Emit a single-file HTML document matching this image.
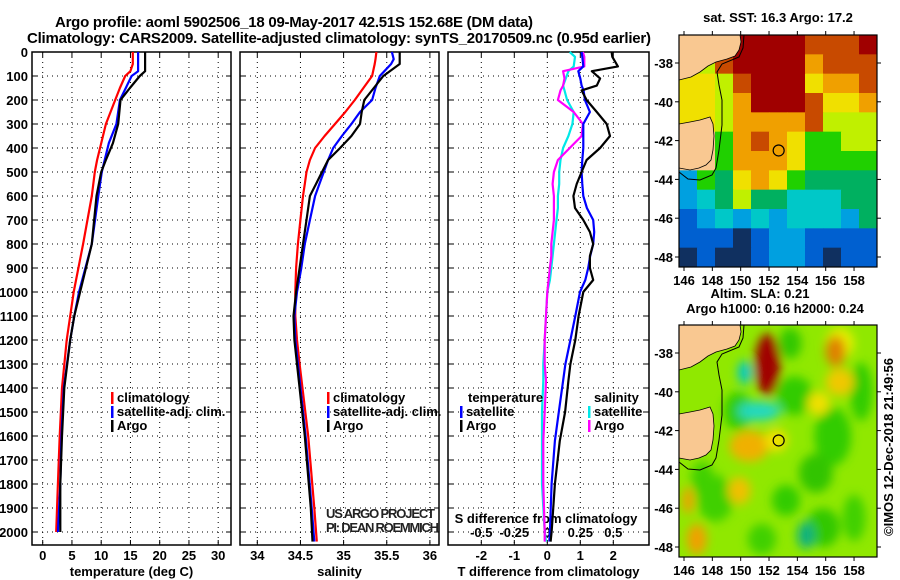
<!DOCTYPE html>
<html><head><meta charset="utf-8"><style>
html,body{margin:0;padding:0;background:#fff;}
svg{display:block;font-family:"Liberation Sans",sans-serif;}
.t{font-weight:bold;font-size:13px;}
</style></head><body>
<svg id="c" width="900" height="580" viewBox="0 0 900 580" xmlns="http://www.w3.org/2000/svg">
<defs>
<filter id="blur" x="-50%" y="-50%" width="200%" height="200%"><feGaussianBlur stdDeviation="5"/></filter>
<clipPath id="clipTop"><rect x="679" y="35" width="198" height="232"/></clipPath>
<clipPath id="clipBot"><rect x="679" y="325" width="198" height="232"/></clipPath>
</defs>
<text x="55" y="27" font-size="15" font-weight="bold" textLength="478">Argo profile: aoml 5902506_18 09-May-2017 42.51S 152.68E (DM data)</text>
<text x="27" y="43" font-size="15" font-weight="bold" textLength="624">Climatology: CARS2009. Satellite-adjusted climatology: synTS_20170509.nc (0.95d earlier)</text>
<g id="g"></g>
</svg>
<script>
// ---- data ----
var depthTicks=[0,100,200,300,400,500,600,700,800,900,1000,1100,1200,1300,1400,1500,1600,1700,1800,1900,2000];
var tempTicks=[0,5,10,15,20,25,30];
var salTicks=[34,34.5,35,35.5,36];
var salTickLabels=["34","34.5","35","35.5","36"];
var tdiffTicks=[-2,-1,0,1,2];
var sdiffTicks=[-0.5,-0.25,0,0.25,0.5];
var sdiffTickLabels=["-0.5","-0.25","0","0.25","0.5"];

var tDepth=[0,50,80,100,150,200,300,380,450,500,600,800,1000,1100,1200,1400,1600,1800,2000];
var tArgo=[17.5,17.5,17.5,16.6,14.9,13.3,12.9,12.0,10.8,10.0,9.2,8.4,6.4,5.4,4.7,3.7,3.3,3.0,3.0];
var tSat=[16.3,16.3,16.3,15.2,14.2,13.2,12.6,11.3,10.6,10.1,9.5,8.4,6.2,5.4,4.7,3.6,3.2,3.0,2.6];
var tClim=[15.4,15.4,15.0,14.1,13.2,12.4,10.8,10.0,9.3,8.9,8.4,6.9,5.3,4.7,4.1,3.3,2.9,2.6,2.3];

var sDepth=[0,30,50,100,150,200,250,300,350,400,450,500,550,600,700,800,900,1000,1100,1200,1300,1600,1900,2040];
var sArgo=[35.65,35.65,35.65,35.46,35.35,35.24,35.21,35.19,35.09,34.96,34.82,34.75,34.68,34.61,34.57,34.53,34.49,34.45,34.42,34.43,34.46,34.55,34.62,34.64];
var sSat=[35.56,35.58,35.55,35.42,35.37,35.33,35.19,35.09,34.98,34.88,34.82,34.77,34.72,34.67,34.61,34.55,34.51,34.46,34.43,34.44,34.47,34.56,34.63,34.66];
var sClim=[35.38,35.37,35.36,35.33,35.23,35.13,35.02,34.90,34.78,34.67,34.61,34.57,34.55,34.53,34.50,34.47,34.45,34.44,34.44,34.46,34.49,34.59,34.66,34.69];

var dDepth=[0,20,60,80,110,140,160,200,250,300,350,400,450,500,550,600,650,700,750,800,850,900,950,1000,1100,1200,1300,1370,1500,1620,1800,2000,2040];
var dTArgo=[1.95,1.97,2.14,1.35,1.6,1.5,1.04,1.19,1.5,1.8,1.9,1.6,1.19,1.04,0.89,0.79,0.84,1.09,1.29,1.39,1.29,1.29,1.39,1.09,0.95,0.85,0.7,0.64,0.54,0.38,0.23,0.13,0.1];
var dTSat=[1.04,1.06,1.09,0.94,1.0,1.04,1.1,1.14,1.29,1.09,1.09,1.09,1.06,1.04,1.06,1.09,1.2,1.39,1.42,1.39,1.3,1.24,1.15,0.99,0.85,0.7,0.55,0.48,0.35,0.23,0.13,0.08,0.06];
var dSArgo=[0.27,0.28,0.28,0.12,0.13,0.12,0.1,0.08,0.2,0.27,0.26,0.17,0.08,0.05,0.04,0.05,0.05,0.05,0.04,0.03,0.03,0.02,0.01,0.0,-0.01,-0.02,-0.02,-0.01,-0.02,-0.03,-0.03,-0.02,-0.02];
var dSSat=[0.17,0.21,0.2,0.16,0.14,0.12,0.13,0.15,0.2,0.19,0.16,0.12,0.1,0.09,0.09,0.08,0.08,0.07,0.06,0.05,0.04,0.03,0.02,0.0,-0.01,-0.02,-0.03,-0.03,-0.04,-0.04,-0.04,-0.02,-0.01];

// SST map grid (codes)
var sstRows=[
"PPPRRRRBBBR",
"PLBRRRROBBB",
"YYLBRRRYOOB",
"YYLORRRBYYO",
"YYLOOOOBLLL",
"PPGOBOYGGLL",
"PPGOOOYGGGG",
"SGTYOYGTTTT",
"SCTLTTCCCTT",
"DSCSCSCCCST",
"DDDKDSSDDDD",
"KDKKDSSDKDD"];
var sstColors={P:"#f9c891",R:"#a00000",B:"#c84a00",O:"#f0a000",Y:"#f0e000",L:"#c0f000",G:"#20d000",T:"#00b060",C:"#00c8c8",S:"#00a0e0",D:"#0060d0",K:"#103060"};
var lonTicks=[146,148,150,152,154,156,158];
var latTicks=[-38,-40,-42,-44,-46,-48];
// SLA blobs: lon, lat, rx(deg), ry(deg), color
var slaLon=[149.8,153.8,156.5,158.5,155.3,148.2,153.2,147.3,155.8,151.5,158.0,157.0,
            151.9,150.3,151.3,156.7,157.0,150.6,152.5,146.9,154.6,149.9,146.3,155.5,153.5];
var slaLat=[-41.0,-40.2,-42.3,-40.0,-44.2,-45.5,-45.6,-44.5,-47.0,-47.6,-46.5,-37.5,
            -38.6,-39.0,-41.0,-37.9,-39.5,-42.8,-42.5,-47.6,-47.4,-45.1,-45.6,-40.6,-37.5];
var slaRx=[1.0,1.3,1.3,0.8,1.2,1.3,1.0,0.8,1.2,1.0,0.8,1.0,
           0.9,0.5,1.5,0.7,1.0,1.4,0.8,0.7,0.6,0.8,0.4,0.8,0.8];
var slaRy=[1.0,1.0,1.5,1.5,1.0,1.2,0.8,0.9,1.0,0.8,1.2,0.8,
           1.6,0.6,0.5,0.8,0.7,0.8,0.6,0.8,0.7,0.7,0.7,0.6,0.8];
var slaCol=["#30cc00","#30cc00","#30cc00","#30cc00","#30c400","#40d000","#30cc00","#40d000","#30c800","#40d000","#40d000","#e8f000",
            "#a00000","#00c8c8","#20d8c0","#e08000","#f0c800","#f0b000","#f0e000","#f0a000","#10b080","#f0c000","#f0a000","#f0e000","#30c800"];

// ---- helpers ----
var NS="http://www.w3.org/2000/svg";
var G=document.getElementById('g');
function mk(tag,attrs,parent){var e=document.createElementNS(NS,tag);for(var k in attrs)e.setAttribute(k,attrs[k]);(parent||G).appendChild(e);return e;}
function txt(x,y,s,anchor,cls,extra){var e=mk('text',Object.assign({x:x,y:y,'text-anchor':anchor||'start','class':cls||'t'},extra||{}));e.textContent=s;return e;}
var top0=52,bot0=545;
function yD(d){return 52+d*0.24;}
function xT(v){return 42.7+v*5.85;}
function xS(v){return 257.3+(v-34)*86.3;}
function xDT(v){return 547.3+v*33;}
function xDS(v){return 547.3+v*132;}

// depth labels
depthTicks.forEach(function(d){var e=txt(28,yD(d)+5,String(d),'end');

});

function panel(x0,x1,name,xticks,xf,labels,xlabel){
  var r=mk('rect',{x:x0,y:top0,width:x1-x0,height:bot0-top0,fill:'none',stroke:'#000','stroke-width':1.5});
  
  
  depthTicks.forEach(function(d){var y=yD(d);
    var l=mk('line',{x1:x0,x2:x1,y1:y,y2:y,stroke:'#000','stroke-width':1,'stroke-dasharray':'1,4'});
    
    
    mk('line',{x1:x0,x2:x0+5,y1:y,y2:y,stroke:'#000'});mk('line',{x1:x1-5,x2:x1,y1:y,y2:y,stroke:'#000'});});
  xticks.forEach(function(v,i){var x=xf(v);
    var l=mk('line',{x1:x,x2:x,y1:top0,y2:bot0,stroke:'#000','stroke-width':1,'stroke-dasharray':'1,4'});
    
    
    mk('line',{x1:x,x2:x,y1:bot0-5,y2:bot0,stroke:'#000'});mk('line',{x1:x,x2:x,y1:top0,y2:top0+5,stroke:'#000'});
    var e=txt(x,560,labels[i],'middle');
    
    });
  var e=txt((x0+x1)/2,576,xlabel,'middle');
  
  
}
function line(depths,vals,xf,color,name){
  var pts=depths.map(function(d,i){return xf(vals[i]).toFixed(1)+','+yD(d).toFixed(1);}).join(' ');
  var p=mk('polyline',{points:pts,fill:'none',stroke:color,'stroke-width':2.2,'stroke-linejoin':'round'});
  
  
}
function legend(x,y,label,color,name){
  var r=mk('rect',{x:x,y:y-10,width:2.5,height:12,fill:color});
  var e=txt(x+6,y,label,'start');
  
  
}

// Panel 1
panel(32,231,'temperature-panel',tempTicks,xT,tempTicks.map(String),'temperature (deg C)');
line(tDepth,tClim,xT,'#ff0000','temp-climatology-line');
line(tDepth,tSat,xT,'#0000ff','temp-satellite-line');
line(tDepth,tArgo,xT,'#000000','temp-argo-line');
legend(111,402,'climatology','#ff0000','legend-climatology');
legend(111,416,'satellite-adj. clim.','#0000ff','legend-satellite');
legend(111,430,'Argo','#000','legend-argo');

// Panel 2
panel(240,439,'salinity-panel',salTicks,xS,salTickLabels,'salinity');
line(sDepth,sClim,xS,'#ff0000','sal-climatology-line');
line(sDepth,sSat,xS,'#0000ff','sal-satellite-line');
line(sDepth,sArgo,xS,'#000000','sal-argo-line');
legend(327,402,'climatology','#ff0000','legend-sal-climatology');
legend(327,416,'satellite-adj. clim.','#0000ff','legend-sal-satellite');
legend(327,430,'Argo','#000','legend-sal-argo');
var c1=txt(326,518,'US ARGO PROJECT','start','');c1.setAttribute('font-size','12');c1.setAttribute('fill','#222');c1.setAttribute('textLength','109');


var c2=txt(326,532,'PI: DEAN ROEMMICH','start','');c2.setAttribute('font-size','12');c2.setAttribute('fill','#222');c2.setAttribute('textLength','113');



// Panel 3
panel(448,649,'difference-panel',tdiffTicks,xDT,tdiffTicks.map(String),'T difference from climatology');
sdiffTicks.forEach(function(v,i){var e=txt(xDS(v),537,sdiffTickLabels[i],'middle');

});
var sl=txt(546,523,'S difference from climatology','middle');


line(dDepth,dSSat,xDS,'#00e8e8','sdiff-satellite-line');
line(dDepth,dSArgo,xDS,'#ff00ff','sdiff-argo-line');
line(dDepth,dTSat,xDT,'#0000ff','tdiff-satellite-line');
line(dDepth,dTArgo,xDT,'#000000','tdiff-argo-line');
var lt=txt(468,402,'temperature','start');


legend(460,416,'satellite','#0000ff','legend-tdiff-satellite');
legend(460,430,'Argo','#000','legend-tdiff-argo');
var ls=txt(594,402,'salinity','start');


legend(588,416,'satellite','#00e8e8','legend-sdiff-satellite');
legend(588,430,'Argo','#ff00ff','legend-sdiff-argo');

// ---- maps ----
function mx(lon){return 684+(lon-146)*14.17;}
function my(lat,off){return off+63+(-38-lat)*19.4;}
var landV="679,35 740,35 741,42 739,50 735,56 727,59 716,62 708,66 700,72 691,77 679,80";
var landT="679,124 690,122 700,120 710,117 713,124 714,136 713,150 711,160 706,165 699,168 690,170 679,168";
var cont="744,35 743,48 739,57 722,64 717,72 719,85 722,100 722,125 719,150 716,168 712,175 700,180 688,179 679,172";
function mapFrame(off,name,clip){
  var land=mk('g',{'clip-path':'url(#'+clip+')'});
  var p1=mk('polygon',{points:landV,fill:'#f9c891',transform:'translate(0,'+off+')'},land);
  
  
  var p2=mk('polygon',{points:landT,fill:'#f9c891',transform:'translate(0,'+off+')'},land);
  
  
  mk('polyline',{points:landV,fill:'none',stroke:'#000','stroke-width':0.8,transform:'translate(0,'+off+')'},land);
  mk('polyline',{points:landT,fill:'none',stroke:'#000','stroke-width':0.8,transform:'translate(0,'+off+')'},land);
  var c=mk('polyline',{points:cont,fill:'none',stroke:'#000','stroke-width':1,transform:'translate(0,'+off+')'},land);
  
  
  var ci=mk('circle',{cx:mx(152.68),cy:my(-42.51,off),r:5.5,fill:'none',stroke:'#000','stroke-width':1.2});
  
  
  var fr=mk('rect',{x:679,y:35+off,width:198,height:232,fill:'none',stroke:'#000','stroke-width':1.2});
  
  
  latTicks.forEach(function(l){var y=my(l,off);
    mk('line',{x1:675,x2:679,y1:y,y2:y,stroke:'#000'});mk('line',{x1:877,x2:881,y1:y,y2:y,stroke:'#000'});
    var e=txt(673,y+5,String(l),'end');
    
    });
  lonTicks.forEach(function(l){var x=mx(l);
    mk('line',{x1:x,x2:x,y1:31+off,y2:35+off,stroke:'#000'});mk('line',{x1:x,x2:x,y1:267+off,y2:271+off,stroke:'#000'});
    var e=txt(x,285+off,String(l),'middle');
    
    });
}
// SST heatmap
var sstG=mk('g',{'clip-path':'url(#clipTop)'});


var cw=198/11,ch=232/12;
sstRows.forEach(function(row,r){for(var c=0;c<row.length;c++){
  var cell=mk('rect',{x:679+c*cw,y:35+r*ch,width:cw+0.5,height:ch+0.5,fill:sstColors[row[c]]},sstG);
  
  }});
mapFrame(0,'sst-map','clipTop');
var st=txt(778,22,'sat. SST: 16.3 Argo: 17.2','middle');



// SLA map
var slaG=mk('g',{'clip-path':'url(#clipBot)'});


mk('rect',{x:679,y:325,width:198,height:232,fill:'#90e800'},slaG);
var bl=mk('g',{filter:'url(#blur)'},slaG);
slaLon.forEach(function(lo,i){
  var e=mk('ellipse',{cx:mx(lo),cy:my(slaLat[i],290),rx:slaRx[i]*14.17,ry:slaRy[i]*19.4,fill:slaCol[i]},bl);
  
  });
mapFrame(290,'sla-map','clipBot');
var a1=txt(760,298,'Altim. SLA: 0.21','middle');


var a2=txt(775,313,'Argo h1000: 0.16 h2000: 0.24','middle');


var cp=txt(0,0,'©IMOS 12-Dec-2018 21:49:56','middle','');
cp.setAttribute('font-size','13');
cp.setAttribute('transform','translate(893,447) rotate(-90)');


</script>
</body></html>
